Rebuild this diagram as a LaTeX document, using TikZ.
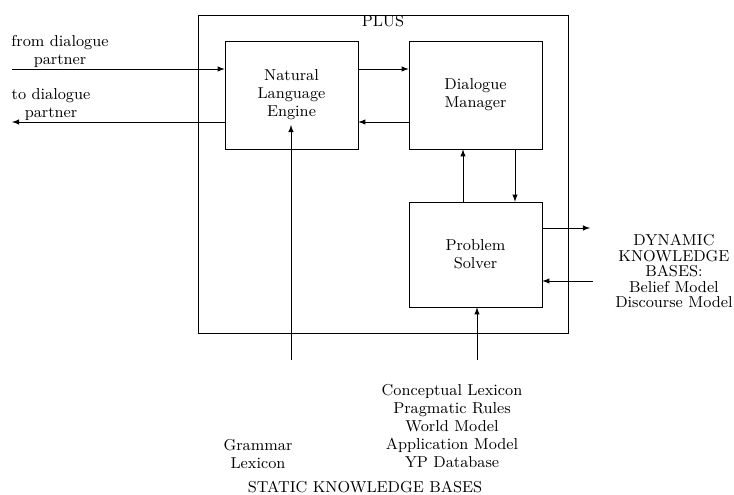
\documentclass[tikz,border=0pt]{standalone}
\usetikzlibrary{arrows}
\begin{document}
\begin{tikzpicture}[x=0.02cm,y=0.02cm,>=latex,
        txt/.style={align=center,font=\small\linespread{0.93}\selectfont},
        box/.style={draw,txt,minimum width=2.66cm}]
            \useasboundingbox (0,0) rectangle (734,494);
            % outer system box
            \node[draw,minimum width=7.4cm,minimum height=6.36cm] (plus) at (383,320) {};
            \node[txt] (plustitle) at (383,473) {PLUS};
            \node[box,minimum height=2.16cm] (nle) at (291.5,399) {Natural\\Language\\Engine};
            \node[box,minimum height=2.16cm] (dm) at (475.5,399) {Dialogue\\Manager};
            \node[box,minimum height=2.1cm] (ps) at (475.5,239.5) {Problem\\Solver};
            % dialogue partner
            \coordinate (fromin) at (12,425);
            \coordinate (toout) at (12,372);
            \node[txt] (fromlbl) at (60,443) {from dialogue\\partner};
            \node[txt] (tolbl) at (51,389) {to dialogue\\partner};
            \draw[->] (fromin)--(fromin -| nle.west);
            \draw[->] (toout -| nle.west)--(toout);
            \draw[->] (fromin -| nle.east)--(fromin -| dm.west);
            \draw[->] (toout -| dm.west)--(toout -| nle.east);
            % manager <-> solver
            \coordinate (upx) at (463,0);
            \coordinate (downx) at (515,0);
            \draw[->] (upx |- ps.north)--(upx |- dm.south);
            \draw[->] (downx |- dm.south)--(downx |- ps.north);
            % dynamic knowledge bases
            \coordinate (dynout) at (590,266);
            \coordinate (dynin) at (593,213);
            \draw[->] (dynout -| ps.east)--(dynout);
            \draw[->] (dynin)--(dynin -| ps.east);
            \node[align=center,inner sep=0pt,anchor=east,font=\small\linespread{0.8}\selectfont] (dyn) at (733,223)
                {DYNAMIC\\KNOWLEDGE\\BASES:\\Belief Model\\Discourse Model};
            % static knowledge bases
            \coordinate (gramtop) at (291,134);
            \coordinate (nlein) at (291,369);
            \coordinate (kbtop) at (477,134);
            \draw[->] (gramtop)--(nlein);
            \draw[->] (kbtop)--(kbtop |- ps.south);
            \node[txt] (gram) at (258,40) {Grammar\\Lexicon};
            \node[txt] (kb) at (452,68) {Conceptual Lexicon\\Pragmatic Rules\\World Model\\Application Model\\YP Database};
            \node[txt] (static) at (365,7) {STATIC KNOWLEDGE BASES};
        \end{tikzpicture}
\end{document}
